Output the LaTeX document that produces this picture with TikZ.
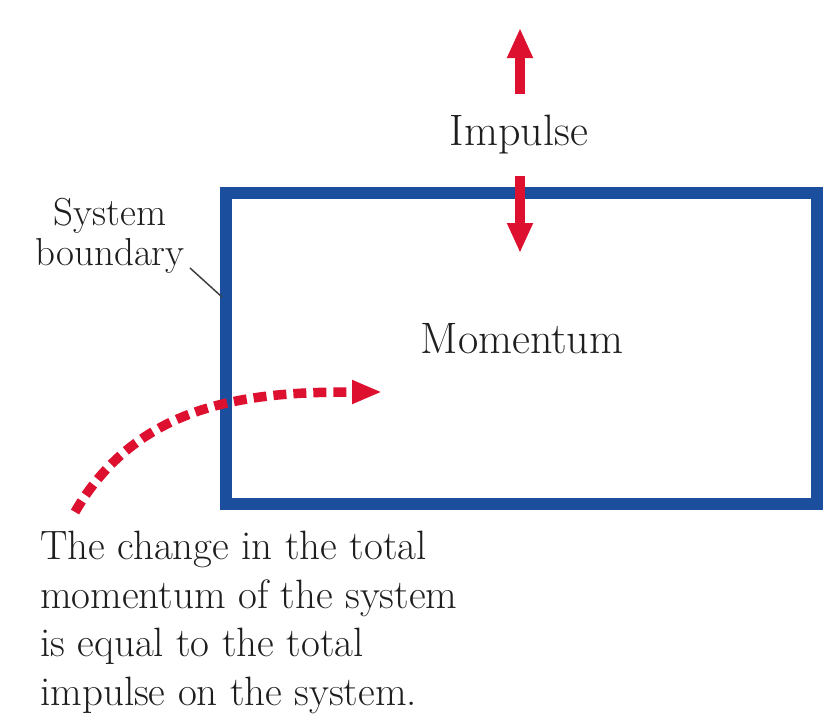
\documentclass[tikz,border=0pt]{standalone}
\usetikzlibrary{arrows.meta}
\definecolor{sysblue}{RGB}{28,78,158}
\definecolor{arrred}{RGB}{222,16,48}
\definecolor{inktext}{RGB}{30,30,30}
\begin{document}
\begin{tikzpicture}[x=1pt,y=-1pt,
  lbl/.style={inner sep=0pt, text=inktext, font=\fontsize{44}{48}\selectfont},
  small/.style={inner sep=0pt, text=inktext, font=\fontsize{39}{40}\selectfont, align=center},
  note/.style={inner sep=0pt, text=inktext, font=\fontsize{41}{48.5}\selectfont, align=left},
  bigarrow/.style={arrred, line width=10pt, -{Triangle[length=30pt,width=24pt]}},
  dasharrow/.style={arrred, line width=9.5pt, dash pattern=on 13pt off 7pt, -{Triangle[length=30pt,width=22pt]}},
  leader/.style={black!75, line width=1.5pt}]
\useasboundingbox (0,0) rectangle (825,715);
% system box
\node[draw=sysblue, line width=12pt, minimum width=591pt, minimum height=311pt, inner sep=0pt] (sys) at (521,348.5) {};
% labels
\node[lbl, anchor=base] (mom) at (522,353) {Momentum};
\node[lbl, anchor=base] (imp) at (519,145) {Impulse};
\node[small, anchor=base] (sb) at (110,265) {System\\boundary};
\node[note, anchor=north west] (txt) at (40,531) {The change in the total\\momentum of the system\\is equal to the total\\impulse on the system.};
% coordinates
\coordinate (upS) at (520,94);
\coordinate (upE) at (520,28);
\coordinate (dnS) at (520,176);
\coordinate (dnE) at (520,253);
\coordinate (lA) at (190,268);
\coordinate (lB) at (222,297);
\coordinate (cS) at (75,512);
\coordinate (cE) at (382,392);
% arrows
\draw[bigarrow] (upS) -- (upE);
\draw[bigarrow] (dnS) -- (dnE);
\draw[leader] (lA) -- (lB);
\draw[dasharrow] (cS) to[out=60,in=180] (cE);
\end{tikzpicture}
\end{document}
